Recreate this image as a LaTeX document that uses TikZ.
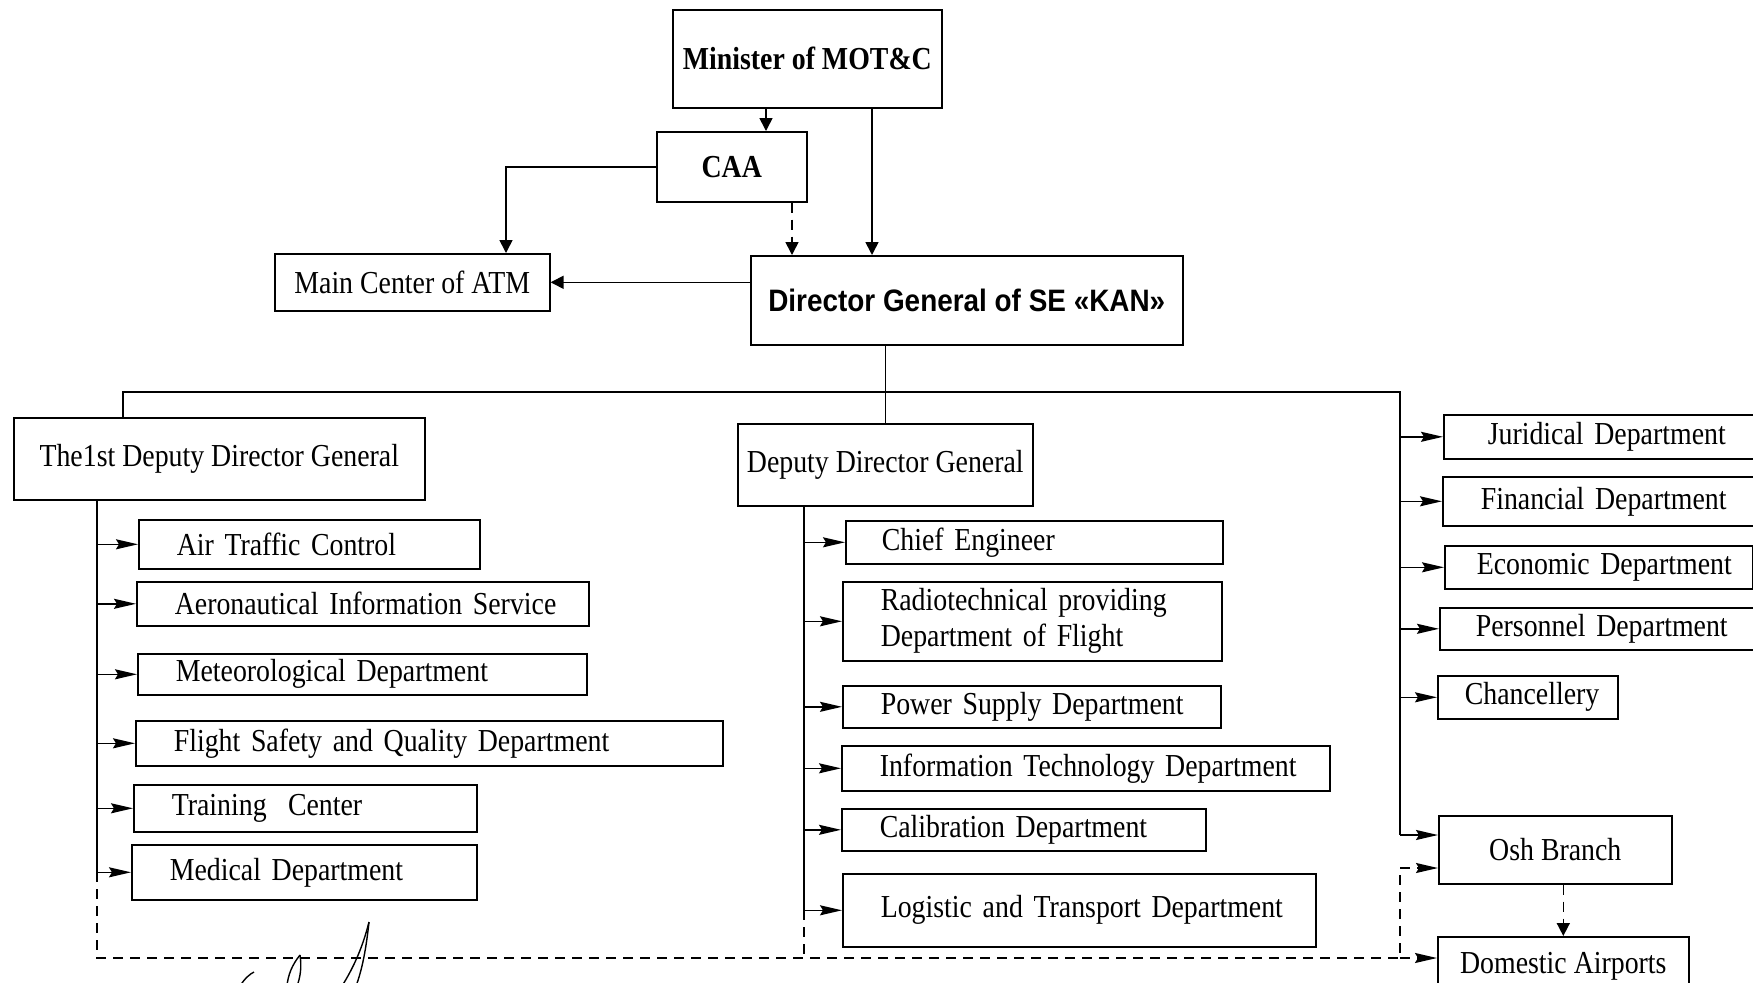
\documentclass[tikz,border=0pt]{standalone}
\usepackage{fontspec}
\setmainfont{Liberation Serif}[FakeStretch=0.87]
\newfontfamily\headsans{Liberation Sans}[FakeStretch=0.9]
\usetikzlibrary{arrows.meta}

% centred box: [style]{name}{x1}{y1}{x2}{y2}{text}, corners in pixel units
\newcommand\cbox[7][]{%
  \pgfmathsetmacro\obW{(#5-#3)*0.5}%
  \pgfmathsetmacro\obH{(#6-#4)*0.5}%
  \node[box,#1,anchor=north west,minimum width=\obW pt,minimum height=\obH pt,
        inner sep=0pt,align=center] (#2) at (#3,#4) {#7};%
}
% left-set box: [style]{name}{x1}{y1}{x2}{y2}{indent}{text}
\newcommand\lbox[8][]{%
  \pgfmathsetmacro\obW{(#5-#3)*0.5}%
  \pgfmathsetmacro\obH{(#6-#4)*0.5}%
  \pgfmathsetmacro\obT{(#5-#3)*0.5-4}%
  \pgfmathsetmacro\obI{#7*0.5}%
  \node[box,#1,anchor=north west,minimum width=\obW pt,minimum height=\obH pt,
        inner xsep=2pt,inner ysep=0pt,text width=\obT pt,align=left] (#2) at (#3,#4)
        {\hspace*{\obI pt}#8};%
}

\tikzset{
  box/.style={draw,line width=0.8pt,rectangle},
  link/.style={line width=0.8pt},
  dashlink/.style={line width=0.8pt,dash pattern=on 5pt off 3.5pt},
  childtip/.style={-{Stealth[length=11pt,width=5pt,inset=1.5pt]}},
  toptip/.style={-{Triangle[length=6.5pt,width=6.5pt]}},
  sig/.style={line width=0.7pt},
  every node/.style={font=\fontsize{16}{18}\selectfont}
}

\begin{document}
\begin{tikzpicture}[x=0.5pt,y=-0.5pt]
\useasboundingbox (0,0) rectangle (1753,982);
\clip (0,0) rectangle (1753,982);

% ---- top of the hierarchy
\cbox[font=\fontsize{16}{18}\selectfont\bfseries]{minister}{672}{9}{941}{107}{Minister of MOT\&C}
\cbox[font=\fontsize{16}{18}\selectfont\bfseries]{caa}{656}{131}{806}{201}{CAA}
\cbox{atm}{274}{253}{549}{310}{Main Center of ATM}
\cbox[font=\headsans\bfseries\fontsize{15.5}{18}\selectfont]{dg}{750}{255}{1182}{344}{Director General of SE «KAN»}

% ---- deputies
\cbox{dep1}{13}{417}{424}{499}{The1st Deputy Director General}
\cbox{ddg}{737}{423}{1032}{505}{Deputy Director General}

% ---- first deputy's departments
\lbox{atc}{138}{519}{479}{568}{34}{Air Traffic Control}
\lbox{ais}{136}{581}{588}{625}{34}{Aeronautical Information Service}
\lbox{met}{137}{653}{586}{694}{34}{Meteorological Department}
\lbox{fsq}{135}{720}{722}{765}{34}{Flight Safety and Quality Department}
\lbox{tc}{133}{784}{476}{831}{34}{Training~ Center}
\lbox{med}{131}{844}{476}{899}{34}{Medical Department}

% ---- deputy's departments
\lbox{ce}{845}{520}{1222}{563}{32}{Chief Engineer}
\lbox{radio}{842}{581}{1221}{660}{34}{Radiotechnical providing\\\hspace*{17pt}Department of Flight}
\lbox{power}{842}{685}{1220}{727}{34}{Power Supply Department}
\lbox{itd}{841}{745}{1329}{790}{34}{Information Technology Department}
\lbox{cal}{841}{808}{1205}{850}{34}{Calibration Department}
\lbox{logi}{842}{873}{1315}{946}{34}{Logistic and Transport Department}

% ---- units under the director general
\lbox{jur}{1443}{414}{1765}{458}{40}{Juridical Department}
\lbox{fin}{1442}{476}{1765}{525}{34}{Financial Department}
\lbox{eco}{1444}{545}{1752}{588}{28}{Economic Department}
\lbox{per}{1439}{607}{1765}{649}{32}{Personnel Department}
\lbox{chan}{1437}{675}{1617}{718}{23}{Chancellery}
\cbox{osh}{1438}{815}{1671}{883}{Osh Branch}
\cbox{dom}{1437}{936}{1688}{995}{Domestic Airports}

% ---- reference lines
\coordinate (xMC) at (766,0);
\coordinate (xMD) at (872,0);
\coordinate (xCD) at (792,0);
\coordinate (xCA) at (506,0);
\coordinate (xB)  at (123,0);
\coordinate (xL)  at (97,0);
\coordinate (xM)  at (804,0);
\coordinate (xR)  at (1400,0);
\coordinate (busY)  at (0,392);
\coordinate (yDash) at (0,958);
\coordinate (yOshA) at (0,835);
\coordinate (yOshB) at (0,868);

% ---- upper links
\draw[link,toptip] (minister.south -| xMC) -- (caa.north -| xMC);
\draw[link,toptip] (minister.south -| xMD) -- (dg.north -| xMD);
\draw[link,toptip] (caa.west) -| (atm.north -| xCA);
\draw[dashlink,toptip] (caa.south -| xCD) -- (dg.north -| xCD);
\draw[link,toptip] (dg.west |- atm.east) -- (atm.east);
\draw[link] (dg.south -| ddg.north) -- (ddg.north);

% ---- main bus
\draw[link] (ddg.north |- busY) -| (dep1.north -| xB);
\draw[link] (ddg.north |- busY) -| (xR |- yOshA);

% ---- first deputy branch
\draw[link] (dep1.south -| xL) -- (xL |- med.west);
\foreach \n in {atc,ais,met,fsq,tc,med}
  \draw[link,childtip] (xL |- \n.west) -- (\n.west);

% ---- deputy branch
\draw[link] (ddg.south -| xM) -- (xM |- logi.west);
\foreach \n in {ce,radio,power,itd,cal,logi}
  \draw[link,childtip] (xM |- \n.west) -- (\n.west);

% ---- director general's own units
\foreach \n in {jur,fin,eco,per,chan}
  \draw[link,childtip] (xR |- \n.west) -- (\n.west);
\draw[link,childtip] (xR |- yOshA) -- (osh.west |- yOshA);

% ---- dashed links to the branch and airports
\draw[dashlink] (xL |- med.west) -- (xL |- yDash) -- (xR |- yDash) -- (xR |- yOshB);
\draw[dashlink] (xM |- logi.west) -- (xM |- yDash);
\draw[dashlink,childtip] (xR |- yOshB) -- (osh.west |- yOshB);
\draw[dashlink,childtip] (xR |- yDash) -- (dom.west |- yDash);
\draw[dashlink,toptip] (osh.south -| dom.north) -- (dom.north);

% ---- signature
\draw[sig] (369,922) .. controls (362,950) and (352,970) .. (342,986);
\draw[sig] (369,922) .. controls (366,950) and (362,970) .. (356,986);
\draw[sig] (300,955) .. controls (292,965) and (288,975) .. (287,986);
\draw[sig] (300,955) .. controls (302,968) and (300,978) .. (297,986);
\draw[sig] (240,986) .. controls (245,978) and (250,974) .. (254,972);
\end{tikzpicture}
\end{document}
